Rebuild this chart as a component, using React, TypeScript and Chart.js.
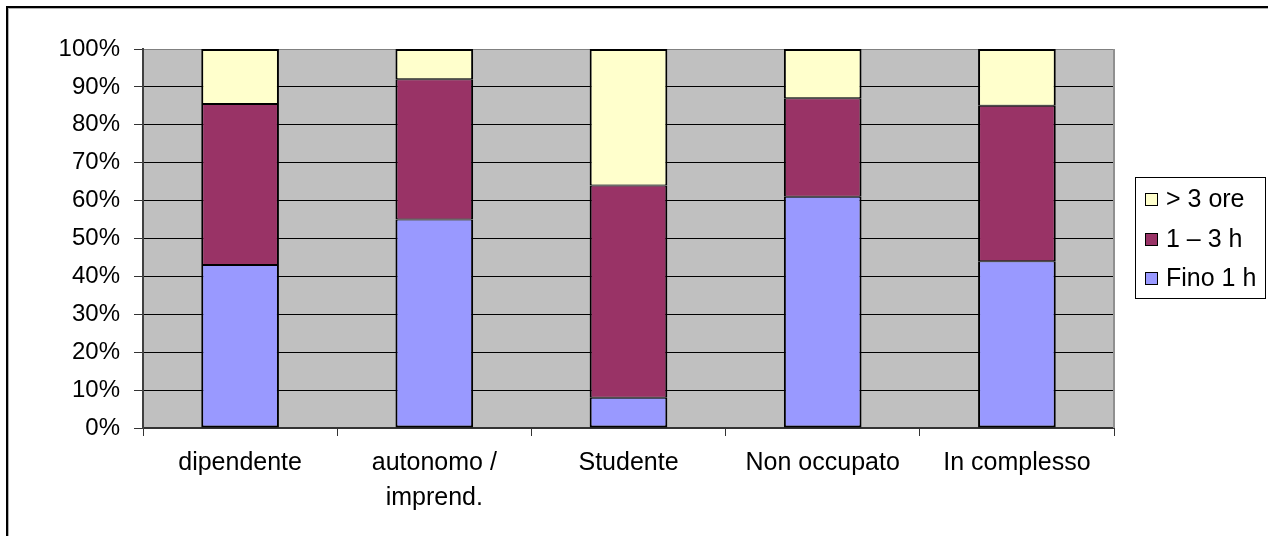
import React, { useEffect, useRef } from "react";
import { Chart, registerables } from "chart.js";

Chart.register(...registerables);

const categories: (string | string[])[] = [
  "dipendente",
  ["autonomo /", "imprend."],
  "Studente",
  "Non occupato",
  "In complesso",
];
const fino1h = [43, 55, 8, 61, 44];
const da1a3h = [42.5, 37, 56, 26, 41];
const oltre3ore = [14.5, 8, 36, 13, 15];
const seriesLabels = ["Fino 1 h", "1 \u2013 3 h", "> 3 ore"];
const seriesColors = ["#9999FF", "#993366", "#FFFFCC"];
const yTicks = [0, 10, 20, 30, 40, 50, 60, 70, 80, 90, 100];

const FONT = "'Liberation Sans', Arial, sans-serif";

const framePlugin = {
  id: "frame",
  beforeDraw(chart: any) {
    const { ctx, chartArea } = chart;
    ctx.save();
    ctx.fillStyle = "#ffffff";
    ctx.fillRect(0, 0, chart.width, chart.height);
    ctx.fillStyle = "#C0C0C0";
    ctx.fillRect(chartArea.left, chartArea.top, chartArea.right - chartArea.left, chartArea.bottom - chartArea.top);
    ctx.restore();
  },
  afterDraw(chart: any) {
    const { ctx, chartArea } = chart;
    ctx.save();
    ctx.fillStyle = "#000";
    ctx.fillRect(6, 6, 2, chart.height);
    ctx.fillRect(6, 6, chart.width, 2);
    ctx.fillStyle = "#b0b0b0";
    ctx.fillRect(8, 8, 1, chart.height);
    ctx.fillRect(8, 8, chart.width, 1);
    ctx.fillStyle = "#909090";
    ctx.fillRect(chartArea.right - 1, chartArea.top, 2, chartArea.bottom - chartArea.top);
    const lx = 1135.5, ly = 177.5, lw = 130, lh = 121;
    ctx.fillStyle = "#fff";
    ctx.fillRect(lx, ly, lw, lh);
    ctx.strokeStyle = "#000";
    ctx.lineWidth = 1;
    ctx.strokeRect(lx, ly, lw, lh);
    const rows = [199, 239, 278];
    const order = [2, 1, 0];
    ctx.font = `25px ${FONT}`;
    ctx.textBaseline = "middle";
    ctx.textAlign = "left";
    order.forEach((si, i) => {
      const cy = rows[i];
      ctx.fillStyle = seriesColors[si];
      ctx.fillRect(1145, cy - 6, 13, 13);
      ctx.strokeStyle = "#000";
      ctx.strokeRect(1145.5, cy - 5.5, 12, 12);
      ctx.fillStyle = "#000";
      ctx.fillText(seriesLabels[si], 1166, cy + 1);
    });
    ctx.restore();
  },
};

const borderWidths = [
  { left: 2, right: 2, top: 1, bottom: 2 },
  { left: 2, right: 2, top: 1, bottom: 1 },
  { left: 2, right: 2, top: 2, bottom: 1 },
];

export default function App() {
  const ref = useRef<HTMLCanvasElement>(null);
  useEffect(() => {
    if (!ref.current) return;
    const data = [fino1h, da1a3h, oltre3ore];
    const chart = new Chart(ref.current, {
      type: "bar",
      data: {
        labels: categories,
        datasets: data.map((d, i) => ({
          label: seriesLabels[i],
          data: d,
          backgroundColor: seriesColors[i],
          borderColor: "#000",
          borderWidth: borderWidths[i],
          borderSkipped: false,
          barPercentage: 0.4,
          categoryPercentage: 1,
        })),
      },
      options: {
        animation: false,
        responsive: false,
        devicePixelRatio: 1,
        events: [],
        layout: { padding: { left: 0, right: 154, top: 49, bottom: 8 } },
        plugins: { legend: { display: false }, tooltip: { enabled: false } },
        scales: {
          x: {
            stacked: true,
            afterFit: (s: any) => { s.height = 100; },
            grid: {
              offset: true,
              drawOnChartArea: false,
              drawTicks: true,
              tickLength: 8,
              tickColor: "#333",
              lineWidth: 1,
            },
            border: { display: true, color: "#333", width: 2 },
            ticks: {
              color: "#000",
              font: { family: FONT, size: 25, lineHeight: 1.4 },
              padding: 10,
              maxRotation: 0,
              autoSkip: false,
            },
          },
          y: {
            stacked: true,
            min: 0,
            max: 100,
            afterFit: (s: any) => { s.width = 143; },
            afterBuildTicks: (s: any) => { s.ticks = yTicks.map((v) => ({ value: v })); },
            grid: {
              color: (c: any) => (c.tick && c.tick.value === 100 ? "#808080" : "#000"),
              lineWidth: 1,
              drawTicks: true,
              tickLength: 9,
              tickColor: "#333",
            },
            border: { display: true, color: "#404040", width: 2 },
            ticks: {
              color: "#000",
              font: { family: FONT, size: 24 },
              padding: 14,
              callback: (v: any) => `${v}%`,
            },
          },
        },
      },
      plugins: [framePlugin],
    });
    return () => chart.destroy();
  }, []);
  return (
    <canvas
      ref={ref}
      width={1268}
      height={536}
      style={{ position: "fixed", left: 0, top: 0, width: 1268, height: 536 }}
    />
  );
}
